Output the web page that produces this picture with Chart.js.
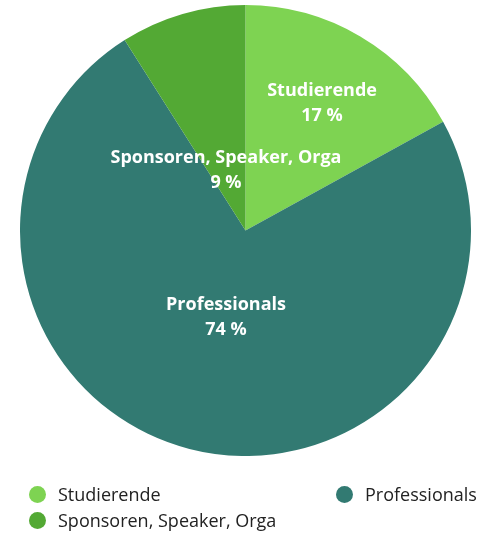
<!DOCTYPE html>
<html><head><meta charset="utf-8">
<script src="https://cdn.jsdelivr.net/npm/chart.js@4"></script>
<style>
html,body{margin:0;padding:0;background:#fff;width:478px;height:533px;overflow:hidden;font-family:"Open Sans",sans-serif;}
#wrap{position:absolute;left:20px;top:5px;width:451px;height:451px;}
#legend{position:absolute;left:0;top:0;width:478px;height:533px;pointer-events:none;}
.li{position:absolute;font-size:18px;color:#222;line-height:22px;white-space:nowrap;}
.dot{position:absolute;width:17px;height:17px;border-radius:50%;}
</style></head>
<body>
<div id="wrap"><canvas id="c"></canvas></div>
<div id="legend"></div>
<script>
const categories = ["Studierende", "Professionals", "Sponsoren, Speaker, Orga"];
const values = [17, 74, 9];
const colors = ["#7ed352", "#327a72", "#53a934"];
const valueLabels = ["17 %", "74 %", "9 %"];

// label placement (fraction of radius, angle offset in degrees) – style only
const labelPos = [{r:0.663,da:0.2},{r:0.387,da:-1.5},{r:0.288,da:-1.3}];

const labelPlugin = {
  id:'sliceLabels',
  afterDatasetsDraw(chart){
    const ctx = chart.ctx;
    const meta = chart.getDatasetMeta(0);
    ctx.save();
    ctx.fillStyle = '#fff';
    ctx.font = 'bold 18px "Open Sans", sans-serif';
    ctx.textAlign = 'center';
    ctx.textBaseline = 'middle';
    meta.data.forEach((arc,i)=>{
      const p = arc.getProps(['x','y','startAngle','endAngle','outerRadius'],true);
      const a = (p.startAngle+p.endAngle)/2 + labelPos[i].da*Math.PI/180;
      const r = p.outerRadius*labelPos[i].r;
      const x = p.x + Math.cos(a)*r, y = p.y + Math.sin(a)*r + 1.5;
      ctx.fillText(categories[i], x, y-12.5);
      ctx.fillText(valueLabels[i], x, y+12.5);
    });
    ctx.restore();
  }
};

new Chart(document.getElementById('c'),{
  type:'pie',
  data:{labels:categories,datasets:[{data:values,backgroundColor:colors,borderWidth:0,hoverOffset:0}]},
  options:{
    responsive:true,maintainAspectRatio:false,animation:false,
    layout:{padding:0},
    plugins:{legend:{display:false},tooltip:{enabled:false}}
  },
  plugins:[labelPlugin]
});

// legend: column layout
const legendOrder = [0,2,1];
const legendPos = [{x:29,y:494},{x:29,y:520},{x:336,y:494}];
const lg = document.getElementById('legend');
legendOrder.forEach((idx,k)=>{
  const d = document.createElement('div');
  d.className='dot';
  d.style.background = colors[idx];
  d.style.left = legendPos[k].x+'px';
  d.style.top = (legendPos[k].y-8.5)+'px';
  lg.appendChild(d);
  const t = document.createElement('div');
  t.className='li';
  t.textContent = categories[idx];
  t.style.left = (legendPos[k].x+29)+'px';
  t.style.top = (legendPos[k].y-11)+'px';
  lg.appendChild(t);
});
</script>
</body></html>
